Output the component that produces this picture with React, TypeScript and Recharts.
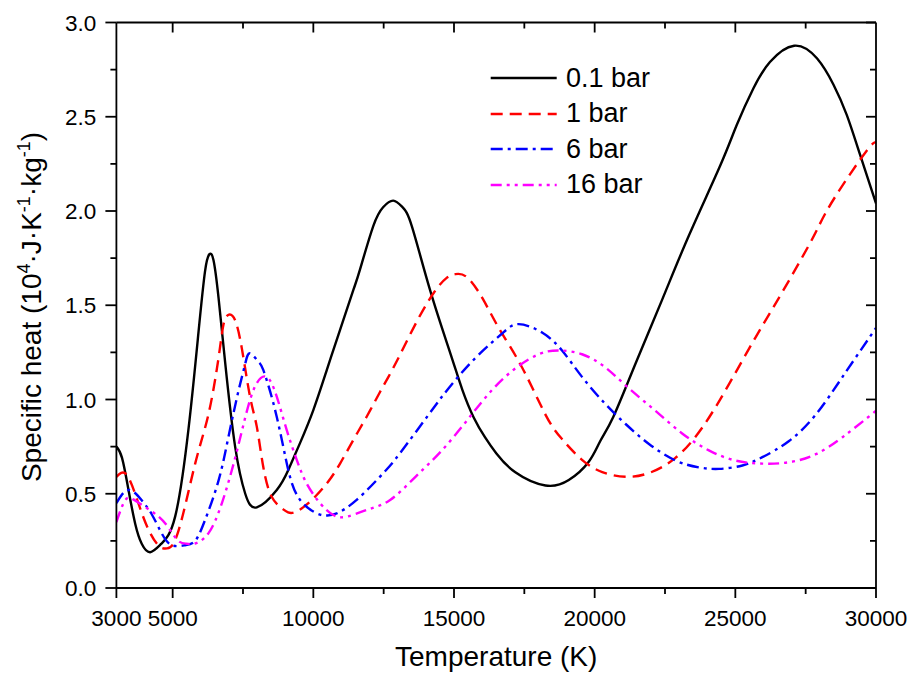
import React from 'react';
import { LineChart, Line, XAxis, YAxis, Legend, Label } from 'recharts';

// ---- Data (temperature in K, specific heat in 10^4 J/(K·kg)) ----
const T_01 = [3000, 3200, 3430, 3670, 3900, 4200, 4600, 5090, 5560, 5920, 6150, 6300, 6450, 6630, 6870, 7220, 7580, 7990, 8700, 9110, 9530, 10000, 10480, 10950, 11420, 11660, 12130, 12480, 12840, 13170, 13500, 14150, 14870, 15300, 15700, 16100, 16500, 17180, 18250, 19080, 19790, 20200, 20665, 21450, 22400, 23350, 24460, 25050, 25640, 26230, 27090, 27900, 28490, 28960, 29430, 30000];
const CP_01 = [0.75, 0.69, 0.52, 0.34, 0.235, 0.19, 0.235, 0.38, 0.84, 1.36, 1.68, 1.77, 1.74, 1.54, 1.19, 0.75, 0.5, 0.428, 0.52, 0.626, 0.77, 0.944, 1.157, 1.37, 1.58, 1.69, 1.92, 2.02, 2.055, 2.02, 1.92, 1.58, 1.245, 1.05, 0.905, 0.8, 0.715, 0.614, 0.544, 0.573, 0.67, 0.78, 0.909, 1.19, 1.53, 1.87, 2.24, 2.456, 2.65, 2.79, 2.877, 2.81, 2.67, 2.51, 2.3, 2.04];

const T_1 = [3000, 3370, 3780, 4140, 4500, 4800, 5200, 5800, 6270, 6630, 6810, 7000, 7220, 7460, 7750, 7990, 8220, 8520, 8930, 9300, 9880, 10480, 10950, 11420, 11900, 12370, 12670, 13090, 13700, 14300, 14740, 15050, 15450, 16000, 16590, 17420, 18250, 18840, 19550, 20270, 21100, 21930, 22870, 23820, 24770, 25720, 26670, 27620, 28000, 28570, 29670, 30000];
const CP_1 = [0.59, 0.6, 0.45, 0.31, 0.225, 0.21, 0.3, 0.66, 0.92, 1.22, 1.4, 1.45, 1.42, 1.27, 1.015, 0.856, 0.643, 0.484, 0.417, 0.4, 0.458, 0.555, 0.66, 0.785, 0.91, 1.04, 1.12, 1.24, 1.42, 1.57, 1.645, 1.665, 1.65, 1.54, 1.38, 1.17, 0.92, 0.79, 0.68, 0.615, 0.59, 0.61, 0.69, 0.85, 1.08, 1.33, 1.57, 1.82, 1.93, 2.08, 2.32, 2.36];

const T_6 = [3000, 3430, 3900, 4260, 4610, 4970, 5440, 5800, 6150, 6630, 6980, 7340, 7580, 7750, 8050, 8220, 8580, 8930, 9170, 9530, 10120, 10500, 10830, 11540, 12490, 13080, 14100, 14810, 15760, 16710, 17300, 18130, 18840, 19550, 20380, 21100, 21930, 22880, 23700, 24420, 25250, 25960, 26910, 27860, 28810, 30000];
const CP_6 = [0.45, 0.52, 0.465, 0.39, 0.29, 0.227, 0.227, 0.25, 0.36, 0.57, 0.8, 1.046, 1.19, 1.245, 1.2, 1.157, 0.98, 0.75, 0.59, 0.467, 0.396, 0.385, 0.396, 0.467, 0.61, 0.715, 0.92, 1.06, 1.22, 1.35, 1.4, 1.355, 1.26, 1.12, 0.976, 0.87, 0.764, 0.676, 0.64, 0.632, 0.65, 0.694, 0.78, 0.92, 1.12, 1.38];

const T_16 = [3000, 3310, 3600, 4020, 4490, 4850, 5200, 5500, 5800, 6270, 6750, 7220, 7580, 7930, 8340, 8700, 9050, 9410, 9760, 10240, 10710, 11190, 11900, 12730, 13630, 14570, 15520, 16350, 17180, 18010, 18720, 19550, 20380, 21210, 22160, 23110, 24060, 25010, 25960, 26910, 27860, 28810, 30000];
const CP_16 = [0.35, 0.465, 0.47, 0.43, 0.38, 0.32, 0.25, 0.235, 0.236, 0.29, 0.45, 0.69, 0.905, 1.07, 1.12, 1.015, 0.84, 0.68, 0.555, 0.45, 0.387, 0.378, 0.414, 0.467, 0.59, 0.73, 0.9, 1.05, 1.165, 1.24, 1.26, 1.24, 1.17, 1.06, 0.94, 0.82, 0.73, 0.676, 0.66, 0.667, 0.71, 0.8, 0.94];

const SERIES_NAMES = ['0.1 bar', '1 bar', '6 bar', '16 bar'];

const X_TICKS_BOTTOM = [3000, 5000, 7500, 10000, 12500, 15000, 17500, 20000, 22500, 25000, 27500, 30000];
const X_TICKS_TOP = [5000, 7500, 10000, 12500, 15000, 17500, 20000, 22500, 25000, 27500];
const X_LABELED = [3000, 5000, 10000, 15000, 20000, 25000, 30000];
const Y_TICKS = [0, 0.25, 0.5, 0.75, 1.0, 1.25, 1.5, 1.75, 2.0, 2.25, 2.5, 2.75, 3.0];

const zip = (ts: number[], vs: number[]) => ts.map((t, i) => ({ T: t, v: vs[i] }));

const FONT = "'Liberation Sans', Arial, Helvetica, sans-serif";
const AXIS_W = 1.8;
const MAJOR_LEN = 10;
const MINOR_LEN = 6;

const STYLES = [
  { color: '#000000', dash: undefined as string | undefined, width: 2.4 },
  { color: '#FF0000', dash: '12 7', width: 2.4 },
  { color: '#0000FF', dash: '12 5 3 5', width: 2.4 },
  { color: '#FF00FF', dash: '11 5 3 5 3 5', width: 2.4 },
];

const isMajorY = (v: number) => Math.abs(v * 2 - Math.round(v * 2)) < 1e-9;

const BottomTick = (props: any) => {
  const { x, y, payload } = props;
  const v = payload.value;
  const labeled = X_LABELED.includes(v);
  return (
    <g>
      <line x1={x} x2={x} y1={y} y2={y + (labeled ? MAJOR_LEN : MINOR_LEN)} stroke="#000" strokeWidth={AXIS_W} />
      {labeled && (
        <text x={x} y={y + 38} textAnchor="middle" fontSize={22.5} fontFamily={FONT} fill="#000">
          {v}
        </text>
      )}
    </g>
  );
};

const TopTick = (props: any) => {
  const { x, y, payload } = props;
  const v = payload.value;
  const labeled = X_LABELED.includes(v);
  return <line x1={x} x2={x} y1={y} y2={y + (labeled ? MAJOR_LEN : MINOR_LEN)} stroke="#000" strokeWidth={AXIS_W} />;
};

const LeftTick = (props: any) => {
  const { x, y, payload } = props;
  const v = payload.value;
  const major = isMajorY(v);
  return (
    <g>
      <line x1={x} x2={x - (major ? MAJOR_LEN + 1 : MINOR_LEN)} y1={y} y2={y} stroke="#000" strokeWidth={AXIS_W} />
      {major && (
        <text x={x - 20} y={y} dy="0.36em" textAnchor="end" fontSize={22.5} fontFamily={FONT} fill="#000">
          {v.toFixed(1)}
        </text>
      )}
    </g>
  );
};

const RightTick = (props: any) => {
  const { x, y, payload } = props;
  const v = payload.value;
  const major = isMajorY(v);
  return <line x1={x} x2={x - (major ? MAJOR_LEN : MINOR_LEN)} y1={y} y2={y} stroke="#000" strokeWidth={AXIS_W} />;
};

const renderLegend = () => (
  <div style={{ fontFamily: FONT }}>
    {SERIES_NAMES.map((name, i) => (
      <div key={name} style={{ display: 'flex', alignItems: 'center', height: 35.6 }}>
        <svg width={76} height={36} style={{ display: 'block' }}>
          <line x1={0.7} x2={66.7} y1={18} y2={18} stroke={STYLES[i].color} strokeWidth={STYLES[i].width} strokeDasharray={STYLES[i].dash} />
        </svg>
        <span style={{ fontSize: 27, lineHeight: '35.6px', color: '#000', whiteSpace: 'nowrap' }}>{name}</span>
      </div>
    ))}
  </div>
);

const YTitle = () => {
  const cx = 31;
  const cy = 307;
  return (
    <text
      transform={`translate(${cx},${cy}) rotate(-90)`}
      x={0}
      y={0}
      dy="0.36em"
      textAnchor="middle"
      fontSize={28}
      fontFamily={FONT}
      fill="#000"
    >
      <tspan>Specific heat (10</tspan>
      <tspan dy={-11} fontSize={18}>4</tspan>
      <tspan dy={11}>·J·K</tspan>
      <tspan dy={-11} fontSize={18}>-1</tspan>
      <tspan dy={11}>·kg</tspan>
      <tspan dy={-11} fontSize={18}>-1</tspan>
      <tspan dy={11}>)</tspan>
    </text>
  );
};

export default function App() {
  const datasets = [zip(T_01, CP_01), zip(T_1, CP_1), zip(T_6, CP_6), zip(T_16, CP_16)];
  return (
    <div style={{ position: 'fixed', left: 0, top: 0, width: 914, height: 673, background: '#fff' }}>
      <LineChart width={914} height={673} margin={{ top: 21.5, right: 37, bottom: 0, left: 56.4 }}>
        <XAxis
          xAxisId="bottom"
          dataKey="T"
          type="number"
          domain={[3000, 30000]}
          allowDataOverflow
          ticks={X_TICKS_BOTTOM}
          interval={0}
          tickSize={0}
          tickMargin={0}
          tickLine={false}
          tick={BottomTick}
          axisLine={{ stroke: '#000', strokeWidth: AXIS_W }}
          height={85}
        >
          <Label
            value="Temperature (K)"
            position="insideBottom"
            offset={7}
            style={{ fontSize: 28, fontFamily: FONT, fill: '#000' }}
          />
        </XAxis>
        <XAxis
          xAxisId="top"
          orientation="top"
          dataKey="T"
          type="number"
          domain={[3000, 30000]}
          allowDataOverflow
          ticks={X_TICKS_TOP}
          interval={0}
          tickSize={0}
          tickMargin={0}
          tickLine={false}
          tick={TopTick}
          axisLine={{ stroke: '#000', strokeWidth: AXIS_W }}
          height={1}
        />
        <YAxis
          yAxisId="left"
          type="number"
          domain={[0, 3]}
          allowDataOverflow
          ticks={Y_TICKS}
          interval={0}
          tickSize={0}
          tickMargin={0}
          tickLine={false}
          tick={LeftTick}
          axisLine={{ stroke: '#000', strokeWidth: AXIS_W }}
          width={60}
        >
          <Label content={YTitle} />
        </YAxis>
        <YAxis
          yAxisId="right"
          orientation="right"
          type="number"
          domain={[0, 3]}
          allowDataOverflow
          ticks={Y_TICKS}
          interval={0}
          tickSize={0}
          tickMargin={0}
          tickLine={false}
          tick={RightTick}
          axisLine={{ stroke: '#000', strokeWidth: AXIS_W }}
          width={1}
        />
        {datasets.map((d, i) => (
          <Line
            key={SERIES_NAMES[i]}
            name={SERIES_NAMES[i]}
            data={d}
            dataKey="v"
            xAxisId="bottom"
            yAxisId="left"
            type="natural"
            dot={false}
            activeDot={false}
            stroke={STYLES[i].color}
            strokeWidth={STYLES[i].width}
            strokeDasharray={STYLES[i].dash}
            isAnimationActive={false}
          />
        ))}
        <Legend
          layout="vertical"
          align="center"
          verticalAlign="middle"
          content={renderLegend}
          wrapperStyle={{ left: 490, top: 60.5, width: 220 }}
        />
      </LineChart>
    </div>
  );
}
